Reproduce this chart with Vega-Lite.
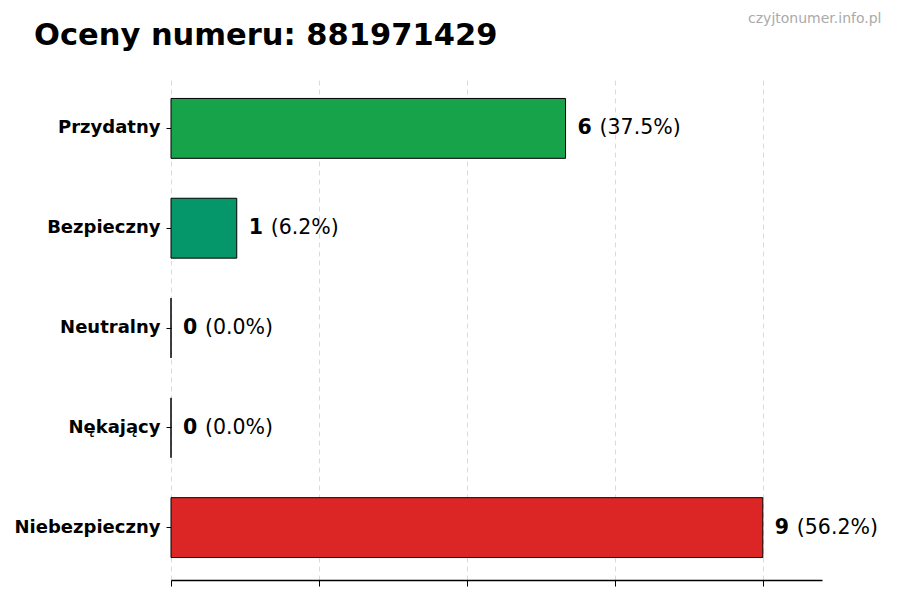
{
  "$schema": "https://vega.github.io/schema/vega-lite/v6.json",
  "width": 651,
  "height": 504,
  "autosize": "none",
  "padding": {"left": 171, "top": 76, "right": 78, "bottom": 20},
  "background": "white",
  "config": {"font": "DejaVu Sans", "view": {"stroke": null}},
  "title": {
    "text": "Oceny numeru: 881971429",
    "anchor": "start",
    "frame": "group",
    "dx": -137,
    "offset": -64,
    "baseline": "alphabetic",
    "fontSize": 30.5,
    "fontWeight": "bold",
    "color": "black",
    "font": "DejaVu Sans"
  },
  "data": {
    "values": [
      {"kategoria": "Przydatny", "liczba": 6, "procent": "(37.5%)"},
      {"kategoria": "Bezpieczny", "liczba": 1, "procent": "(6.2%)"},
      {"kategoria": "Neutralny", "liczba": 0, "procent": "(0.0%)"},
      {"kategoria": "Nękający", "liczba": 0, "procent": "(0.0%)"},
      {"kategoria": "Niebezpieczny", "liczba": 9, "procent": "(56.2%)"}
    ]
  },
  "encoding": {
    "y": {
      "field": "kategoria",
      "type": "nominal",
      "sort": null,
      "scale": {"paddingInner": 0.4, "paddingOuter": 0.225},
      "axis": {
        "title": null,
        "domain": false,
        "grid": false,
        "ticks": true,
        "tickSize": 5,
        "tickColor": "black",
        "labelPadding": 6,
        "labelFontSize": 18,
        "labelFontWeight": "bold",
        "labelColor": "black",
        "labelFont": "DejaVu Sans"
      }
    }
  },
  "layer": [
    {
      "mark": {"type": "bar", "stroke": "black", "strokeWidth": 1},
      "encoding": {
        "x": {
          "field": "liczba",
          "type": "quantitative",
          "scale": {"domain": [0, 9.9], "nice": false, "zero": true},
          "axis": {
            "orient": "bottom",
            "title": null,
            "values": [0, 2.25, 4.5, 6.75, 9],
            "labels": false,
            "ticks": true,
            "tickSize": 6,
            "tickColor": "black",
            "domain": true,
            "domainColor": "black",
            "domainWidth": 1.3,
            "grid": true,
            "gridDash": [5, 4],
            "gridColor": "#d0d0d0",
            "gridWidth": 0.8
          }
        },
        "color": {
          "field": "kategoria",
          "type": "nominal",
          "legend": null,
          "scale": {
            "domain": ["Przydatny", "Bezpieczny", "Neutralny", "Nękający", "Niebezpieczny"],
            "range": ["#16a34a", "#059669", "#6b7280", "#ea580c", "#dc2626"]
          }
        }
      }
    },
    {
      "mark": {"type": "text", "align": "left", "baseline": "middle", "dx": 12, "fontSize": 20.5, "fontWeight": "bold", "color": "black", "font": "DejaVu Sans"},
      "encoding": {
        "x": {
          "field": "liczba",
          "type": "quantitative",
          "scale": {"domain": [0, 9.9], "nice": false},
          "axis": {
            "orient": "top",
            "labels": false,
            "ticks": false,
            "domain": false,
            "grid": false,
            "title": "czyjtonumer.info.pl",
            "titleX": 710,
            "titleY": -54,
            "titleAlign": "right",
            "titleAnchor": null,
            "titleBaseline": "alphabetic",
            "titleFontSize": 14,
            "titleFontWeight": "normal",
            "titleColor": "#aaaaaa",
            "titleFont": "DejaVu Sans"
          }
        },
        "text": {"field": "liczba", "type": "quantitative"}
      }
    },
    {
      "mark": {"type": "text", "align": "left", "baseline": "middle", "dx": 34, "fontSize": 20.5, "fontWeight": "normal", "color": "black", "font": "DejaVu Sans"},
      "encoding": {
        "x": {"field": "liczba", "type": "quantitative", "scale": {"domain": [0, 9.9], "nice": false}, "axis": null},
        "text": {"field": "procent", "type": "nominal"}
      }
    }
  ],
  "resolve": {"axis": {"x": "independent"}}
}
